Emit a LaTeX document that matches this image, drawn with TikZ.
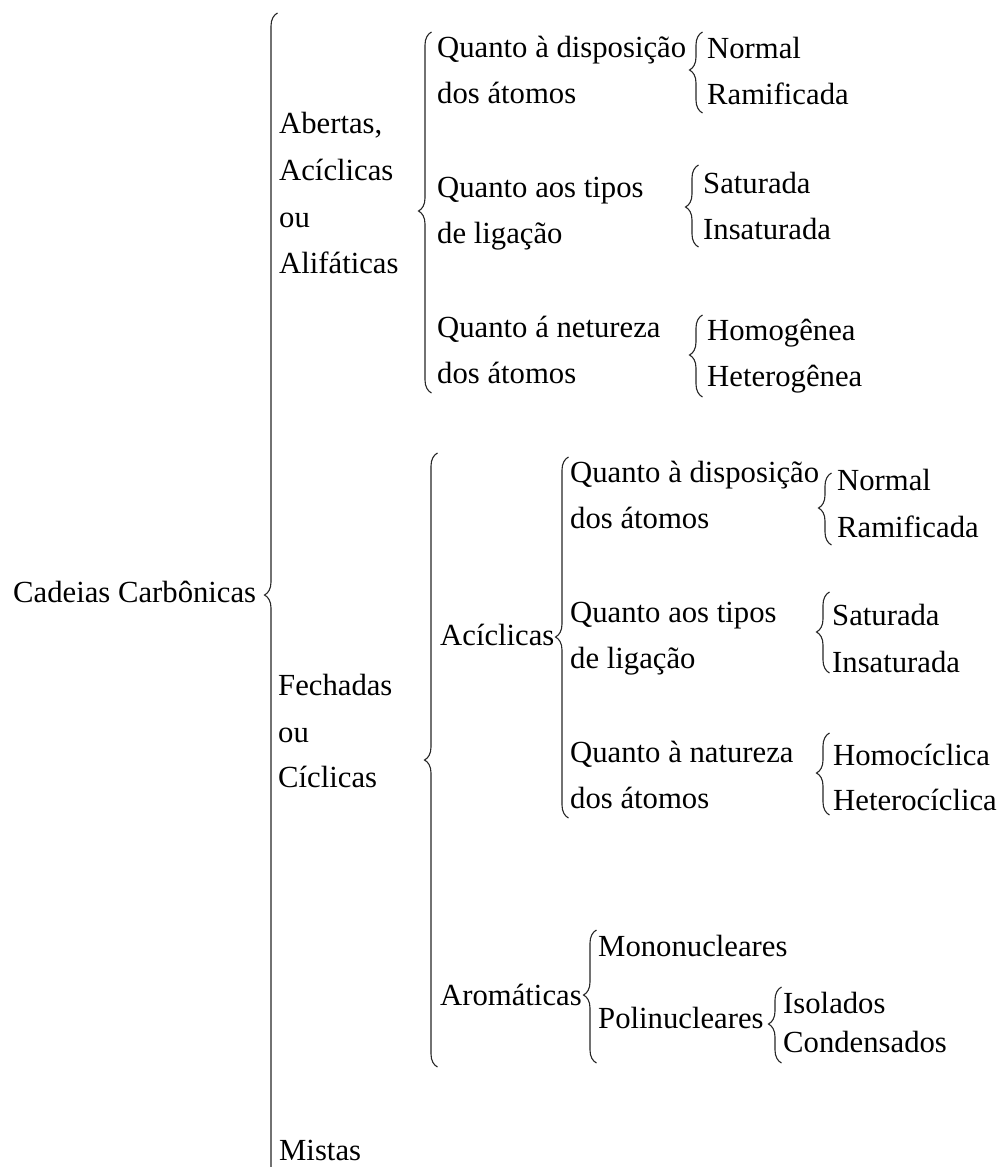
\documentclass[tikz,border=0pt]{standalone}
\usepackage{fontspec}
\setmainfont{Liberation Serif}
\usetikzlibrary{decorations.pathreplacing}

\tikzset{
  lbl/.style={anchor=base west, inner sep=0pt, font=\fontsize{30.7}{37}\selectfont},
  chave/.style={decorate, line width=1.1pt, draw=black!85,
    decoration={brace, amplitude=13pt, aspect=#1}},
}
% brace: line x, top, tip, bottom
\newcommand{\chaves}[4]{%
  \pgfmathsetmacro{\asp}{(#4-#3)/(#4-#2)}
  \draw[chave=\asp] (#1+6.5,#4) -- (#1+6.5,#2);
}

\begin{document}
\begin{tikzpicture}[x=1pt,y=-1pt]
\useasboundingbox (0,0) rectangle (1003,1167);

\node[lbl] (cad) at (13,602) {Cadeias Carbônicas};
\chaves{271}{13}{595}{1190}

% abertas
\node[lbl] (abe) at (279,133) {Abertas,};
\node[lbl] (aci) at (279,180) {Acíclicas};
\node[lbl] (ou1) at (279,227) {ou};
\node[lbl] (ali) at (279,273) {Alifáticas};
\chaves{425}{32}{211}{393}

\node[lbl] (dis1) at (437,57) {Quanto à disposição};
\node[lbl] (dis1b) at (437,103) {dos átomos};
\node[lbl] (lig1) at (437,197) {Quanto aos tipos};
\node[lbl] (lig1b) at (437,243) {de ligação};
\node[lbl] (nat1) at (437,337) {Quanto á netureza};
\node[lbl] (nat1b) at (437,383) {dos átomos};

\chaves{696}{32}{70}{113}
\node[lbl] (nor1) at (707,58) {Normal};
\node[lbl] (ram1) at (707,104) {Ramificada};
\chaves{692}{165}{207}{247}
\node[lbl] (sat1) at (703,193) {Saturada};
\node[lbl] (ins1) at (703,239) {Insaturada};
\chaves{696}{315}{355}{397}
\node[lbl] (hom1) at (707,340) {Homogênea};
\node[lbl] (het1) at (707,386) {Heterogênea};

% fechadas
\node[lbl] (fec) at (278,695) {Fechadas};
\node[lbl] (ou2) at (278,742) {ou};
\node[lbl] (cic) at (278,787) {Cíclicas};
\chaves{431}{453}{760}{1067}

\node[lbl] (aci2) at (440,645) {Acíclicas};
\chaves{562}{457}{637}{818}
\node[lbl] (dis2) at (570,482) {Quanto à disposição};
\node[lbl] (dis2b) at (570,528) {dos átomos};
\node[lbl] (lig2) at (570,622) {Quanto aos tipos};
\node[lbl] (lig2b) at (570,668) {de ligação};
\node[lbl] (nat2) at (570,762) {Quanto à natureza};
\node[lbl] (nat2b) at (570,808) {dos átomos};

\chaves{825}{473}{508}{545}
\node[lbl] (nor2) at (837,490) {Normal};
\node[lbl] (ram2) at (837,537) {Ramificada};
\chaves{823}{592}{632}{673}
\node[lbl] (sat2) at (832,625) {Saturada};
\node[lbl] (ins2) at (832,672) {Insaturada};
\chaves{823}{733}{773}{815}
\node[lbl] (hom2) at (833,765) {Homocíclica};
\node[lbl] (het2) at (833,810) {Heterocíclica};

\node[lbl] (aro) at (440,1005) {Aromáticas};
\chaves{590}{930}{995}{1063}
\node[lbl] (mon) at (598,956) {Mononucleares};
\node[lbl] (pol) at (598,1028) {Polinucleares};
\chaves{775}{987}{1024}{1063}
\node[lbl] (iso) at (783,1013) {Isolados};
\node[lbl] (con) at (783,1052) {Condensados};

% mistas
\node[lbl] (mis) at (279,1160) {Mistas};
\end{tikzpicture}
\end{document}
